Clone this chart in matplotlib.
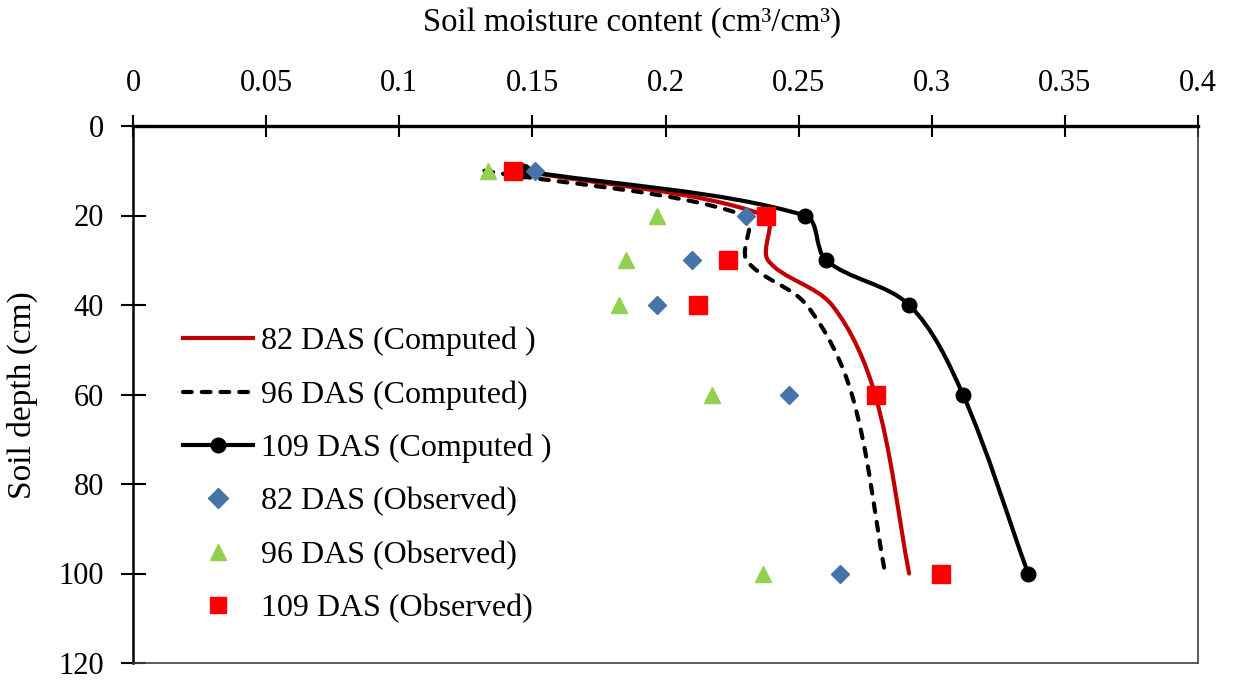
import matplotlib
matplotlib.use("Agg")
import matplotlib.pyplot as plt
from matplotlib.path import Path
from matplotlib.patches import PathPatch
from matplotlib.lines import Line2D
import numpy as np

plt.rcParams['font.family'] = ['Liberation Serif', 'DejaVu Serif']
plt.rcParams['font.size'] = 22

# Soil depth (cm) of computed and observed profiles
depth_comp = [10, 20, 30, 40, 60, 100]
depth_obs = [10, 20, 30, 40, 60, 100]

# Computed soil moisture (cm3/cm3)
comp_82 = [0.146, 0.2375, 0.2385, 0.2625, 0.2787, 0.2915]
comp_96 = [0.132, 0.2300, 0.2305, 0.2530, 0.2700, 0.2825]
comp_109 = [0.1465, 0.2524, 0.2603, 0.2915, 0.3117, 0.3362]

# Observed soil moisture (cm3/cm3)
obs_82 = [0.151, 0.2302, 0.2099, 0.1968, 0.2464, 0.2655]
obs_96 = [0.1333, 0.1968, 0.1852, 0.1825, 0.2175, 0.2365]
obs_109 = [0.1428, 0.2377, 0.2235, 0.2122, 0.2790, 0.3035]

x_ticks = [0, 0.05, 0.1, 0.15, 0.2, 0.25, 0.3, 0.35, 0.4]
x_tick_labels = ['0', '0.05', '0.1', '0.15', '0.2', '0.25', '0.3', '0.35', '0.4']
y_ticks = [0, 20, 40, 60, 80, 100, 120]


def smooth_path(ax, xs, ys):
    """Smoothed cubic Bezier path through the points.

    Tangents are scaled by neighbouring chord lengths measured in display
    space, which keeps short segments from overshooting.
    """
    data = np.column_stack([xs, ys]).astype(float)
    pts = ax.transData.transform(data)
    n = len(pts)
    verts = [pts[0]]
    codes = [Path.MOVETO]
    for i in range(n - 1):
        p0 = pts[i - 1] if i > 0 else pts[i]
        p1 = pts[i]
        p2 = pts[i + 1]
        p3 = pts[i + 2] if i + 2 < n else pts[i + 1]
        d01 = np.hypot(*(p1 - p0))
        d12 = np.hypot(*(p2 - p1))
        d23 = np.hypot(*(p3 - p2))
        f1 = d12 / (3.0 * (d01 + d12)) if d01 + d12 > 0 else 0.0
        f2 = d12 / (3.0 * (d12 + d23)) if d12 + d23 > 0 else 0.0
        c1 = p1 + (p2 - p0) * f1
        c2 = p2 - (p3 - p1) * f2
        verts += [c1, c2, p2]
        codes += [Path.CURVE4] * 3
    verts = ax.transData.inverted().transform(np.array(verts))
    return Path(verts, codes)


fig = plt.figure(figsize=(12.38, 6.82), dpi=100)
ax = fig.add_axes([133 / 1238, 1 - 663 / 682, 1065 / 1238, 537 / 682])
ax.set_xlim(0, 0.4)
ax.set_ylim(120, 0)

red_line = '#C00000'
lw = 3.0
dash = (0, (2.1, 2.4))

ax.add_patch(PathPatch(smooth_path(ax, comp_82, depth_comp), fill=False,
                       edgecolor=red_line, lw=lw, capstyle='round',
                       joinstyle='round', zorder=3))
ax.add_patch(PathPatch(smooth_path(ax, comp_96, depth_comp), fill=False,
                       edgecolor='black', lw=lw, linestyle=dash,
                       capstyle='round', zorder=3))
ax.add_patch(PathPatch(smooth_path(ax, comp_109, depth_comp), fill=False,
                       edgecolor='black', lw=lw, capstyle='round',
                       joinstyle='round', zorder=3))
ax.plot(comp_109, depth_comp, linestyle='none', marker='o', ms=10.5,
        color='black', zorder=4)

ax.plot(obs_82, depth_obs, linestyle='none', marker='D', ms=9,
        color='#4673AA', zorder=5)
ax.plot(obs_96, depth_obs, linestyle='none', marker='^', ms=12,
        color='#92D050', zorder=5)
ax.plot(obs_109, depth_obs, linestyle='none', marker='s', ms=12.5,
        color='#FF0000', zorder=5)

ax.set_xticks(x_ticks)
ax.set_xticklabels(x_tick_labels)
ax.set_yticks(y_ticks)
ax.xaxis.tick_top()
ax.tick_params(axis='x', direction='inout', length=16, width=1.5, pad=12,
               labelsize=22)
ax.tick_params(axis='y', direction='inout', length=18, width=1.5, pad=12,
               labelsize=22)

ax.spines['top'].set_linewidth(2.4)
ax.spines['left'].set_linewidth(1.8)
for side in ('right', 'bottom'):
    ax.spines[side].set_linewidth(1.2)
    ax.spines[side].set_color('#404040')

fig.text(632 / 1238, 1 - 23 / 682, 'Soil moisture content (cm³/cm³)',
         ha='center', va='center', fontsize=23.5)
fig.text(22 / 1238, 1 - 395 / 682, 'Soil depth (cm)', rotation=90,
         ha='center', va='center', fontsize=24)

handles = [
    Line2D([], [], color=red_line, lw=lw),
    Line2D([], [], color='black', lw=lw, linestyle=dash,
           dash_capstyle='round'),
    Line2D([], [], color='black', lw=lw, marker='o', ms=10.5),
    Line2D([], [], linestyle='none', marker='D', ms=10, color='#4673AA'),
    Line2D([], [], linestyle='none', marker='^', ms=12, color='#92D050'),
    Line2D([], [], linestyle='none', marker='s', ms=12, color='#FF0000'),
]
labels = ['82 DAS (Computed )', '96 DAS (Computed)', '109 DAS (Computed )',
          '82 DAS (Observed)', '96 DAS (Observed)', '109 DAS (Observed)']
ax.legend(handles, labels, loc='center left',
          bbox_to_anchor=(0.047, (663 - 475) / 537),
          frameon=False, handlelength=2.2, handletextpad=0.25,
          labelspacing=0.75, fontsize=23, borderaxespad=0, borderpad=0)

fig.savefig('out.png', dpi=100, facecolor='white')
